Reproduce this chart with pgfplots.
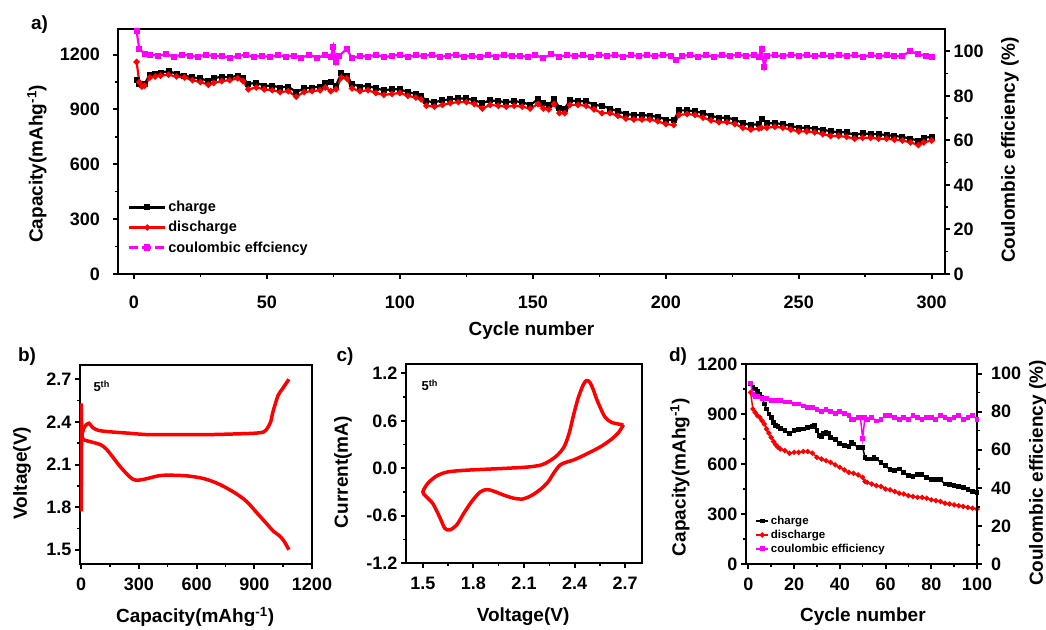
\documentclass[border=0pt]{standalone}
\usepackage{pgfplots}
\pgfplotsset{compat=1.18}
\usepackage{fontspec}
\setmainfont{Liberation Sans}
\definecolor{mag}{RGB}{255,0,255}
\definecolor{rd}{RGB}{255,0,0}
\newcommand\tickf{\fontsize{18}{20}\selectfont\bfseries}
\newcommand\labf{\fontsize{19}{22}\selectfont\bfseries}
\newcommand\legaf{\fontsize{14.5}{17}\selectfont\bfseries}
\newcommand\legdf{\fontsize{11.5}{13}\selectfont\bfseries}
\pgfplotsset{
 myax/.style={scale only axis, anchor=north west,
  axis line style={line width=2.5pt},
  tick align=outside, major tick length=5pt, minor tick length=3pt,
  every tick/.style={black, line width=2pt},
  every minor tick/.style={black, line width=1.5pt},
  tick label style={font=\tickf},
  label style={font=\labf},
  /pgf/number format/assume math mode=true,
  /pgf/number format/1000 sep={}},
 onedec/.style={/pgf/number format/.cd, fixed, fixed zerofill, precision=1}
}
\pgfplotstableread{
c ch
1 1060
2 1040
3 1035
4 1040
6 1090
8 1095
10 1100
13 1110
16 1095
19 1085
22 1075
25 1070
28 1055
30 1070
33 1080
36 1075
39 1085
41 1070
43 1040
46 1045
49 1030
52 1030
55 1020
58 1025
61 995
64 1015
67 1020
70 1025
72 1045
74 1050
76 1030
78 1100
80 1085
82 1040
85 1025
88 1030
91 1015
94 1005
97 1010
100 1010
103 995
106 985
108 975
110 945
113 940
116 950
119 955
122 960
125 960
128 950
131 935
134 950
137 945
140 940
143 945
146 940
149 925
152 955
154 935
156 925
158 955
160 910
162 905
164 950
167 945
170 945
173 925
176 920
179 905
182 890
185 875
188 870
191 870
194 865
197 860
200 845
203 840
205 895
208 895
211 890
214 880
217 865
220 855
223 855
226 845
229 825
232 815
235 820
236 850
238 825
241 825
244 820
247 810
250 800
253 800
256 795
259 790
262 780
265 775
268 775
271 760
274 770
277 765
280 765
283 760
286 755
289 750
292 740
295 730
297 745
300 750
}\tchargeA
\pgfplotstableread{
c dis
1 1160
2 1050
3 1025
4 1030
6 1075
8 1080
10 1085
13 1090
16 1080
19 1075
22 1060
25 1050
28 1035
30 1045
33 1055
36 1060
39 1070
41 1055
43 1010
46 1020
49 1010
52 1005
55 995
58 1000
61 970
64 995
67 1000
70 1005
72 1020
74 1000
76 1010
78 1075
80 1070
82 1015
85 1000
88 1005
91 990
94 980
97 985
100 990
103 975
106 965
108 955
110 920
113 915
116 925
119 935
122 940
125 940
128 930
131 905
134 925
137 920
140 915
143 920
146 915
149 905
152 930
154 905
156 900
158 930
160 880
162 880
164 925
167 925
170 920
173 900
176 880
179 880
182 865
185 850
188 845
191 845
194 845
197 835
200 820
203 815
205 870
208 875
211 870
214 855
217 840
220 830
223 830
226 820
229 800
232 790
235 795
236 800
238 800
241 805
244 800
247 790
250 780
253 780
256 775
259 765
262 755
265 755
268 750
271 740
274 745
277 745
280 740
283 740
286 735
289 730
292 720
295 705
297 720
300 730
}\tdisA
\pgfplotstableread{
c ce
1 109
2 101
4 99
6 98.5
9 98
12 98.8
15 97.5
18 98.5
21 98
24 97.5
27 98.5
30 97.8
33 98
36 97
39 98
42 98.3
45 97.5
48 98
51 97.4
54 98.3
57 97.6
60 98
63 97.2
66 98.4
69 97
72 98.5
74 97.5
75 102
76 95
77 97.8
80 101
82 97
85 98
88 97.5
91 98.5
94 97.3
97 98
100 98.4
103 97.5
106 98.2
109 97.8
112 98.5
115 97.4
118 98
121 98.5
124 97.5
127 98.1
130 97.3
133 98.3
136 97.6
139 98.4
142 97.8
145 98
148 97.5
151 98.2
154 97
157 98.7
160 97.6
163 98.3
166 97.8
169 98.2
172 97.3
175 98.5
178 97.8
181 98.4
184 97.6
187 98.2
190 97.9
193 98.3
196 97.8
199 98.4
202 98
204 96
206 97.8
209 98.4
212 97.5
215 98.2
218 97.6
221 98.3
224 97.8
227 98.5
230 97.9
233 98.3
235 97.5
236 101
237 93
238 98
241 98.2
244 97.8
247 98.4
250 98
253 98.3
256 97.7
259 98.2
262 97.8
265 98.3
268 97.9
271 98.2
274 97.6
277 98.3
280 97.8
283 98.2
286 97.7
289 98
292 100
295 98.6
298 97.8
300 97.5
}\tceA
\pgfplotstableread{
c ch
1 1080
2 1060
3 1050
4 1035
5 1020
6 1000
7 960
8 930
9 900
10 880
11 850
12 830
13 825
14 815
16 800
18 785
20 800
22 805
24 810
26 820
28 825
29 830
30 800
31 770
32 765
33 785
34 790
35 785
36 760
38 745
40 725
42 710
44 705
45 730
46 720
48 700
50 700
51 640
52 630
54 630
55 640
56 630
58 610
60 590
62 565
64 560
66 570
68 550
70 530
72 525
74 535
76 535
78 520
80 505
82 505
84 505
86 480
88 475
90 470
92 465
94 460
96 445
98 435
100 430
}\tchargeD
\pgfplotstableread{
c dis
1 1030
2 930
3 910
4 890
5 880
6 860
7 840
8 810
9 785
10 760
11 735
12 715
13 700
14 690
16 680
18 665
20 670
22 670
24 675
26 675
28 665
30 640
32 630
34 620
36 610
38 595
40 580
42 565
44 550
46 545
48 535
50 520
51 495
52 490
54 480
56 470
58 465
60 450
62 445
64 435
66 425
68 420
70 410
72 405
74 400
76 400
78 395
80 385
82 380
84 375
86 365
88 360
90 355
92 350
94 345
96 340
98 335
100 330
}\tdisD
\pgfplotstableread{
c ce
1 95
2 89
3 88
4 88
6 87
8 87
10 86
12 86
14 86
16 85
18 85
20 84
22 84
24 83
26 82
28 82
30 81
32 80
34 81
36 80
38 79
40 80
42 79
44 78
45 76
46 76
48 77
49 77
50 66
51 77
52 76
54 77
56 75
58 76
60 78
62 78
64 77
66 76
68 77
70 76
72 78
74 77
76 76
78 77
80 77
82 76
84 78
86 77
88 76
90 77
92 78
94 76
96 77
98 78
100 76
}\tceD
\begin{document}
\begin{tikzpicture}
\useasboundingbox (0pt,0pt) rectangle (1046pt,-629pt);
% ---------------- panel a
\begin{axis}[myax, at={(118pt,-29pt)}, width=827pt, height=245pt,
  xmin=-6, xmax=305, ymin=0, ymax=1340,
  xtick={0,50,...,300}, ytick={0,300,...,1200},
  minor x tick num=1, minor y tick num=1, tick pos=left,
  xticklabel style={text height=26pt}, yticklabel style={inner xsep=13pt},
  xlabel={Cycle number}, ylabel={Capacity(mAhg\textsuperscript{-1})},
  xlabel style={at={(axis description cs:0.5,-0.229)}, anchor=center},
  ylabel style={at={(axis description cs:-0.098,0.45)}, anchor=center},
  legend cell align=left,
  legend style={draw=none, fill=none, at={(axis description cs:0.012,0.305)}, anchor=north west, font=\legaf, row sep=4pt, inner sep=0pt},
  legend image code/.code={\draw[mark repeat=2,mark phase=2,#1] plot coordinates {(0pt,0pt) (18pt,0pt) (36pt,0pt)};}]
\addplot[black, line width=2.2pt, mark=square*, mark size=1.9pt] table[x=c,y=ch] {\tchargeA};
\addlegendentry{charge}
\addplot[rd, line width=2.2pt, mark=*, mark size=1.9pt] table[x=c,y=dis] {\tdisA};
\addlegendentry{discharge}
\addlegendimage{mag, line width=2.2pt, dashed, dash pattern=on 9pt off 4pt, mark=square*, mark size=2pt, mark options={solid}}
\addlegendentry{coulombic effciency}
\end{axis}
\begin{axis}[myax, at={(118pt,-29pt)}, width=827pt, height=245pt,
  xmin=-6, xmax=305, ymin=0, ymax=110,
  axis y line*=right, axis x line=none,
  ytick={0,20,...,100}, minor y tick num=1,
  ylabel={Coulombic efficiency (\%)},
  ylabel style={at={(axis description cs:1.0786,0.506)}, anchor=center}]
\addplot[mag, line width=2.2pt, mark=square*, mark size=1.9pt] table[x=c,y=ce] {\tceA};
\end{axis}
% ---------------- panel b
\begin{axis}[myax, at={(80pt,-365pt)}, width=232pt, height=199pt,
  xmin=-6, xmax=1200, ymin=1.4, ymax=2.8,
  xtick={0,300,...,1200}, ytick={1.5,1.8,2.1,2.4,2.7}, yticklabel style={onedec},
  xticklabel style={text height=18pt},
  minor x tick num=1, minor y tick num=1, tick pos=left,
  xlabel={Capacity(mAhg\textsuperscript{-1})}, ylabel={Voltage(V)},
  xlabel style={at={(axis description cs:0.496,-0.266)}, anchor=center},
  ylabel style={at={(axis description cs:-0.25,0.457)}, anchor=center}]
\addplot[rd, line width=3.5pt, smooth] coordinates {(0,1.77) (2,2.25) (8,2.33) (20,2.37) (40,2.39) (60,2.36) (90,2.34) (150,2.33) (250,2.32) (350,2.31) (500,2.31) (650,2.31) (800,2.315) (900,2.32) (950,2.33) (970,2.36) (985,2.40) (995,2.46) (1010,2.53) (1025,2.59) (1045,2.63) (1065,2.67) (1080,2.70)};
\addplot[rd, line width=3.5pt, smooth] coordinates {(0,2.53) (3,2.35) (10,2.28) (50,2.26) (100,2.24) (130,2.21) (160,2.16) (200,2.09) (240,2.03) (270,1.995) (300,1.99) (340,2.00) (400,2.02) (450,2.025) (550,2.02) (640,2.0) (720,1.96) (800,1.90) (860,1.84) (920,1.75) (960,1.69) (1000,1.63) (1030,1.60) (1055,1.56) (1080,1.50)};
\node[anchor=west, font=\fontsize{13}{15}\selectfont\bfseries] at (rel axis cs:0.043,0.894) {5\textsuperscript{th}};
\end{axis}
% ---------------- panel c
\begin{axis}[myax, at={(406pt,-364pt)}, width=236pt, height=199pt,
  xmin=1.4, xmax=2.8, ymin=-1.2, ymax=1.32,
  xtick={1.5,1.8,2.1,2.4,2.7}, ytick={-1.2,-0.6,0,0.6,1.2}, xticklabel style={text height=18pt, onedec}, yticklabel style={onedec},
  minor x tick num=1, minor y tick num=1, tick pos=left,
  xlabel={Voltage(V)}, ylabel={Current(mA)},
  xlabel style={at={(axis description cs:0.496,-0.271)}, anchor=center},
  ylabel style={at={(axis description cs:-0.267,0.457)}, anchor=center}]
\addplot[rd, line width=3.5pt, smooth] coordinates {(2.69,0.55) (2.62,0.58) (2.58,0.65) (2.55,0.78) (2.53,0.88) (2.51,1.00) (2.49,1.09) (2.47,1.11) (2.45,1.05) (2.42,0.88) (2.39,0.64) (2.37,0.46) (2.34,0.28) (2.30,0.17) (2.25,0.09) (2.20,0.04) (2.12,0.015) (2.0,0.0) (1.9,-0.01) (1.8,-0.02) (1.72,-0.03) (1.64,-0.05) (1.58,-0.10) (1.53,-0.19) (1.50,-0.30) (1.52,-0.36) (1.56,-0.45) (1.60,-0.62) (1.63,-0.76) (1.66,-0.78) (1.70,-0.72) (1.74,-0.58) (1.79,-0.42) (1.84,-0.30) (1.88,-0.27) (1.92,-0.29) (1.98,-0.34) (2.04,-0.38) (2.09,-0.39) (2.14,-0.35) (2.19,-0.28) (2.24,-0.18) (2.28,-0.05) (2.32,0.05) (2.40,0.11) (2.48,0.19) (2.56,0.28) (2.62,0.37) (2.66,0.45) (2.69,0.55)};
\node[anchor=west, font=\fontsize{13}{15}\selectfont\bfseries] at (rel axis cs:0.051,0.894) {5\textsuperscript{th}};
\end{axis}
% ---------------- panel d
\begin{axis}[myax, at={(746pt,-364pt)}, width=231pt, height=200pt,
  xmin=-1, xmax=100, ymin=0, ymax=1200,
  xtick={0,20,...,100}, ytick={0,300,...,1200},
  xticklabel style={text height=18pt},
  minor x tick num=1, minor y tick num=1, tick pos=left,
  xlabel={Cycle number}, ylabel={Capacity(mAhg\textsuperscript{-1})},
  xlabel style={at={(axis description cs:0.506,-0.265)}, anchor=center},
  ylabel style={at={(axis description cs:-0.286,0.435)}, anchor=center},
  legend cell align=left,
  legend style={draw=none, fill=none, at={(axis description cs:0.04,0.25)}, anchor=north west, font=\legdf, row sep=0pt, inner sep=0pt},
  legend image code/.code={\draw[mark repeat=2,mark phase=2,#1] plot coordinates {(0pt,0pt) (6pt,0pt) (12pt,0pt)};}]
\addplot[black, line width=1.5pt, mark=square*, mark size=1.6pt] table[x=c,y=ch] {\tchargeD};
\addlegendentry{charge}
\addplot[rd, line width=1.5pt, mark=*, mark size=1.8pt] table[x=c,y=dis] {\tdisD};
\addlegendentry{discharge}
\addlegendimage{mag, line width=1.5pt, mark=square*, mark size=1.6pt}
\addlegendentry{coulombic efficiency}
\end{axis}
\begin{axis}[myax, at={(746pt,-364pt)}, width=231pt, height=200pt,
  xmin=-1, xmax=100, ymin=0, ymax=105,
  axis y line*=right, axis x line=none,
  ytick={0,20,...,100}, minor y tick num=1,
  yticklabel style={inner xsep=9pt},
  ylabel={Coulombic efficiency (\%)},
  ylabel style={at={(axis description cs:1.264,0.455)}, anchor=center}]
\addplot[mag, line width=1.5pt, mark=square*, mark size=1.6pt] table[x=c,y=ce] {\tceD};
\end{axis}
% ---------------- panel letters
\node[font=\labf] at (39.5pt,-24.5pt) {a)};
\node[font=\labf] at (27pt,-357pt) {b)};
\node[font=\labf] at (345pt,-357pt) {c)};
\node[font=\labf] at (678pt,-357pt) {d)};
\end{tikzpicture}
\end{document}
